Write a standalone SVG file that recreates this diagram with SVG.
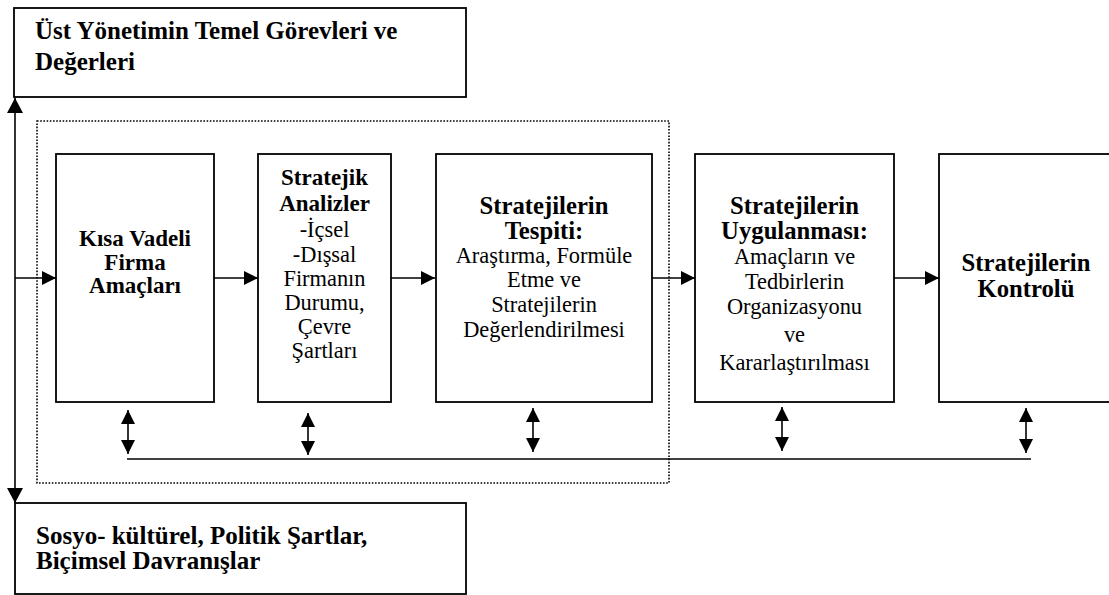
<svg xmlns="http://www.w3.org/2000/svg" width="1109" height="595" viewBox="0 0 1109 595">
  <defs>
    <style>
      .box { fill: #ffffff; stroke: #000000; stroke-width: 1.8; }
      .frame { fill: none; stroke: #000000; stroke-width: 1.6; stroke-dasharray: 1.6 1.6; }
      .line { fill: none; stroke: #000000; stroke-width: 1.6; }
      .b { font-weight: bold; }
      .c { text-anchor: middle; }
      .s22 { font-size: 22.4px; }
      .s23 { font-size: 23px; }
      .s25 { font-size: 24.7px; }
      .big { font-size: 25px; }
    </style>
    <marker id="arrow" viewBox="0 0 14 14" refX="14" refY="7" markerWidth="14" markerHeight="14" markerUnits="userSpaceOnUse" orient="auto-start-reverse">
      <path d="M0,0 L14,7 L0,14 z" fill="#000000"/>
    </marker>
    <marker id="arrowL" viewBox="0 0 15 16" refX="15" refY="8" markerWidth="15" markerHeight="16" markerUnits="userSpaceOnUse" orient="auto-start-reverse">
      <path d="M0,0 L15,8 L0,16 z" fill="#000000"/>
    </marker>
  </defs>

  <rect width="1109" height="595" fill="#ffffff"/>

  <!-- dotted frame around the planning stages -->
  <rect class="frame" x="37" y="121" width="632" height="362"/>

  <!-- connectors -->
  <g id="connectors">
    <!-- main vertical line linking the two context boxes -->
    <line class="line" x1="15" y1="98" x2="15" y2="503" marker-start="url(#arrowL)" marker-end="url(#arrowL)"/>
    <!-- process flow -->
    <line class="line" x1="15" y1="278" x2="56" y2="278" marker-end="url(#arrow)"/>
    <line class="line" x1="214" y1="278" x2="258" y2="278" marker-end="url(#arrow)"/>
    <line class="line" x1="391" y1="278" x2="435" y2="278" marker-end="url(#arrow)"/>
    <line class="line" x1="652" y1="278" x2="695" y2="278" marker-end="url(#arrow)"/>
    <line class="line" x1="894" y1="278" x2="939" y2="278" marker-end="url(#arrow)"/>
    <!-- feedback bus -->
    <line class="line" x1="127" y1="459" x2="1031" y2="459"/>
    <line class="line" x1="128" y1="410" x2="128" y2="454" marker-start="url(#arrow)" marker-end="url(#arrow)"/>
    <line class="line" x1="308" y1="413" x2="308" y2="455" marker-start="url(#arrow)" marker-end="url(#arrow)"/>
    <line class="line" x1="533" y1="408" x2="533" y2="452" marker-start="url(#arrow)" marker-end="url(#arrow)"/>
    <line class="line" x1="782" y1="407" x2="782" y2="451" marker-start="url(#arrow)" marker-end="url(#arrow)"/>
    <line class="line" x1="1026" y1="408" x2="1026" y2="453" marker-start="url(#arrow)" marker-end="url(#arrow)"/>
  </g>

  <g font-family="'Liberation Serif', 'Times New Roman', Times, 'DejaVu Serif', serif" fill="#000000">
  <g id="top-values">
    <rect class="box" x="14" y="8" width="452" height="89"/>
    <text class="b big" x="35" y="39">Üst Yönetimin Temel Görevleri ve</text>
    <text class="b big" x="35" y="70">Değerleri</text>
  </g>

  <g id="short-term-goals">
    <rect class="box" x="56" y="154" width="158" height="248"/>
    <text class="b s23 c" x="135" y="246">Kısa Vadeli</text>
    <text class="b s23 c" x="135" y="269.5">Firma</text>
    <text class="b s23 c" x="135" y="293">Amaçları</text>
  </g>

  <g id="strategic-analysis">
    <rect class="box" x="258" y="154" width="133" height="248"/>
    <text class="b s23 c" x="324.5" y="185">Stratejik</text>
    <text class="b s23 c" x="324.5" y="210.5">Analizler</text>
    <text class="s22 c" x="324.5" y="236.5">-İçsel</text>
    <text class="s22 c" x="324.5" y="261.5">-Dışsal</text>
    <text class="s22 c" x="324.5" y="286">Firmanın</text>
    <text class="s22 c" x="324.5" y="310">Durumu,</text>
    <text class="s22 c" x="324.5" y="334">Çevre</text>
    <text class="s22 c" x="324.5" y="358">Şartları</text>
  </g>

  <g id="strategy-formulation">
    <rect class="box" x="436" y="154" width="216" height="248"/>
    <text class="b s25 c" x="544" y="214">Stratejilerin</text>
    <text class="b s25 c" x="544" y="238.5">Tespiti:</text>
    <text class="s22 c" x="544" y="262.5">Araştırma, Formüle</text>
    <text class="s22 c" x="544" y="287">Etme ve</text>
    <text class="s22 c" x="544" y="311.5">Stratejilerin</text>
    <text class="s22 c" x="544" y="336.5">Değerlendirilmesi</text>
  </g>

  <g id="strategy-implementation">
    <rect class="box" x="695" y="154" width="199" height="248"/>
    <text class="b s25 c" x="794.5" y="214">Stratejilerin</text>
    <text class="b s25 c" x="794.5" y="239">Uygulanması:</text>
    <text class="s22 c" x="794.5" y="264">Amaçların ve</text>
    <text class="s22 c" x="794.5" y="289">Tedbirlerin</text>
    <text class="s22 c" x="794.5" y="314">Organizasyonu</text>
    <text class="s22 c" x="794.5" y="342">ve</text>
    <text class="s22 c" x="794.5" y="370">Kararlaştırılması</text>
  </g>

  <g id="strategy-control">
    <rect class="box" x="939" y="154" width="176" height="248"/>
    <text class="b s25 c" x="1026" y="271">Stratejilerin</text>
    <text class="b s25 c" x="1026" y="297">Kontrolü</text>
  </g>

  <g id="socio-cultural">
    <rect class="box" x="15" y="503" width="451" height="91"/>
    <text class="b big" x="36" y="544">Sosyo- kültürel, Politik Şartlar,</text>
    <text class="b big" x="36" y="569">Biçimsel Davranışlar</text>
  </g>
  </g>
</svg>
